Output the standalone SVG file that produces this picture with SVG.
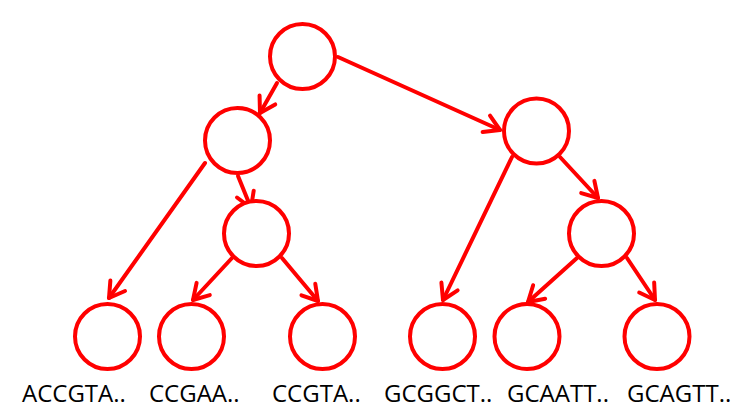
<svg xmlns="http://www.w3.org/2000/svg" width="744" height="418" viewBox="0 0 744 418">
<style>
.node{fill:#ffffff;stroke:#ff0000;stroke-width:4}
.edge{stroke:#ff0000;stroke-width:4;fill:none;stroke-linecap:round}
.lbl{font-family:"Open Sans","Liberation Sans",sans-serif;font-size:24px;fill:#000000}
</style>
<defs>
<marker id="arr" markerUnits="userSpaceOnUse" markerWidth="40" markerHeight="40" refX="0" refY="0" orient="auto" overflow="visible" viewBox="-20 -20 40 40">
<path d="M-15,-9 L0,0 L-15,9" fill="none" stroke="#ff0000" stroke-width="4" stroke-linecap="round" stroke-linejoin="round"/>
</marker>
</defs>
<rect width="744" height="418" fill="#ffffff"/>
<g id="connectors">
<line class="edge" x1="277" y1="83" x2="260" y2="113" marker-end="url(#arr)"/>
<line class="edge" x1="338" y1="57" x2="500" y2="130" marker-end="url(#arr)"/>
<line class="edge" x1="205" y1="163" x2="109" y2="298" marker-end="url(#arr)"/>
<line class="edge" x1="238" y1="176" x2="251" y2="208" marker-end="url(#arr)"/>
<line class="edge" x1="232" y1="258" x2="193" y2="300" marker-end="url(#arr)"/>
<line class="edge" x1="282" y1="258" x2="318" y2="301" marker-end="url(#arr)"/>
<line class="edge" x1="512" y1="157" x2="443" y2="300" marker-end="url(#arr)"/>
<line class="edge" x1="560" y1="157" x2="598" y2="198" marker-end="url(#arr)"/>
<line class="edge" x1="577" y1="258" x2="528" y2="302" marker-end="url(#arr)"/>
<line class="edge" x1="627" y1="258" x2="655" y2="300" marker-end="url(#arr)"/>
</g>
<g id="root"><circle class="node" cx="302.5" cy="56.5" r="32.5"/></g>
<g id="n-left"><circle class="node" cx="237.5" cy="140.5" r="32.5"/></g>
<g id="n-right"><circle class="node" cx="536.5" cy="131" r="32.5"/></g>
<g id="n-left-right"><circle class="node" cx="256.5" cy="233.5" r="32.5"/></g>
<g id="n-right-right"><circle class="node" cx="601.5" cy="233.5" r="32.5"/></g>
<g id="leaf1"><circle class="node" cx="107.5" cy="336.5" r="32.5"/><text class="lbl" x="22" y="402">ACCGTA..</text></g>
<g id="leaf2"><circle class="node" cx="191.5" cy="336.5" r="32.5"/><text class="lbl" x="149" y="402">CCGAA..</text></g>
<g id="leaf3"><circle class="node" cx="322.5" cy="336.5" r="32.5"/><text class="lbl" x="272" y="402">CCGTA..</text></g>
<g id="leaf4"><circle class="node" cx="442.5" cy="336.5" r="32.5"/><text class="lbl" x="384" y="402">GCGGCT..</text></g>
<g id="leaf5"><circle class="node" cx="527" cy="336.5" r="32.5"/><text class="lbl" x="507" y="402">GCAATT..</text></g>
<g id="leaf6"><circle class="node" cx="657" cy="336.5" r="32.5"/><text class="lbl" x="627" y="402">GCAGTT..</text></g>
</svg>
